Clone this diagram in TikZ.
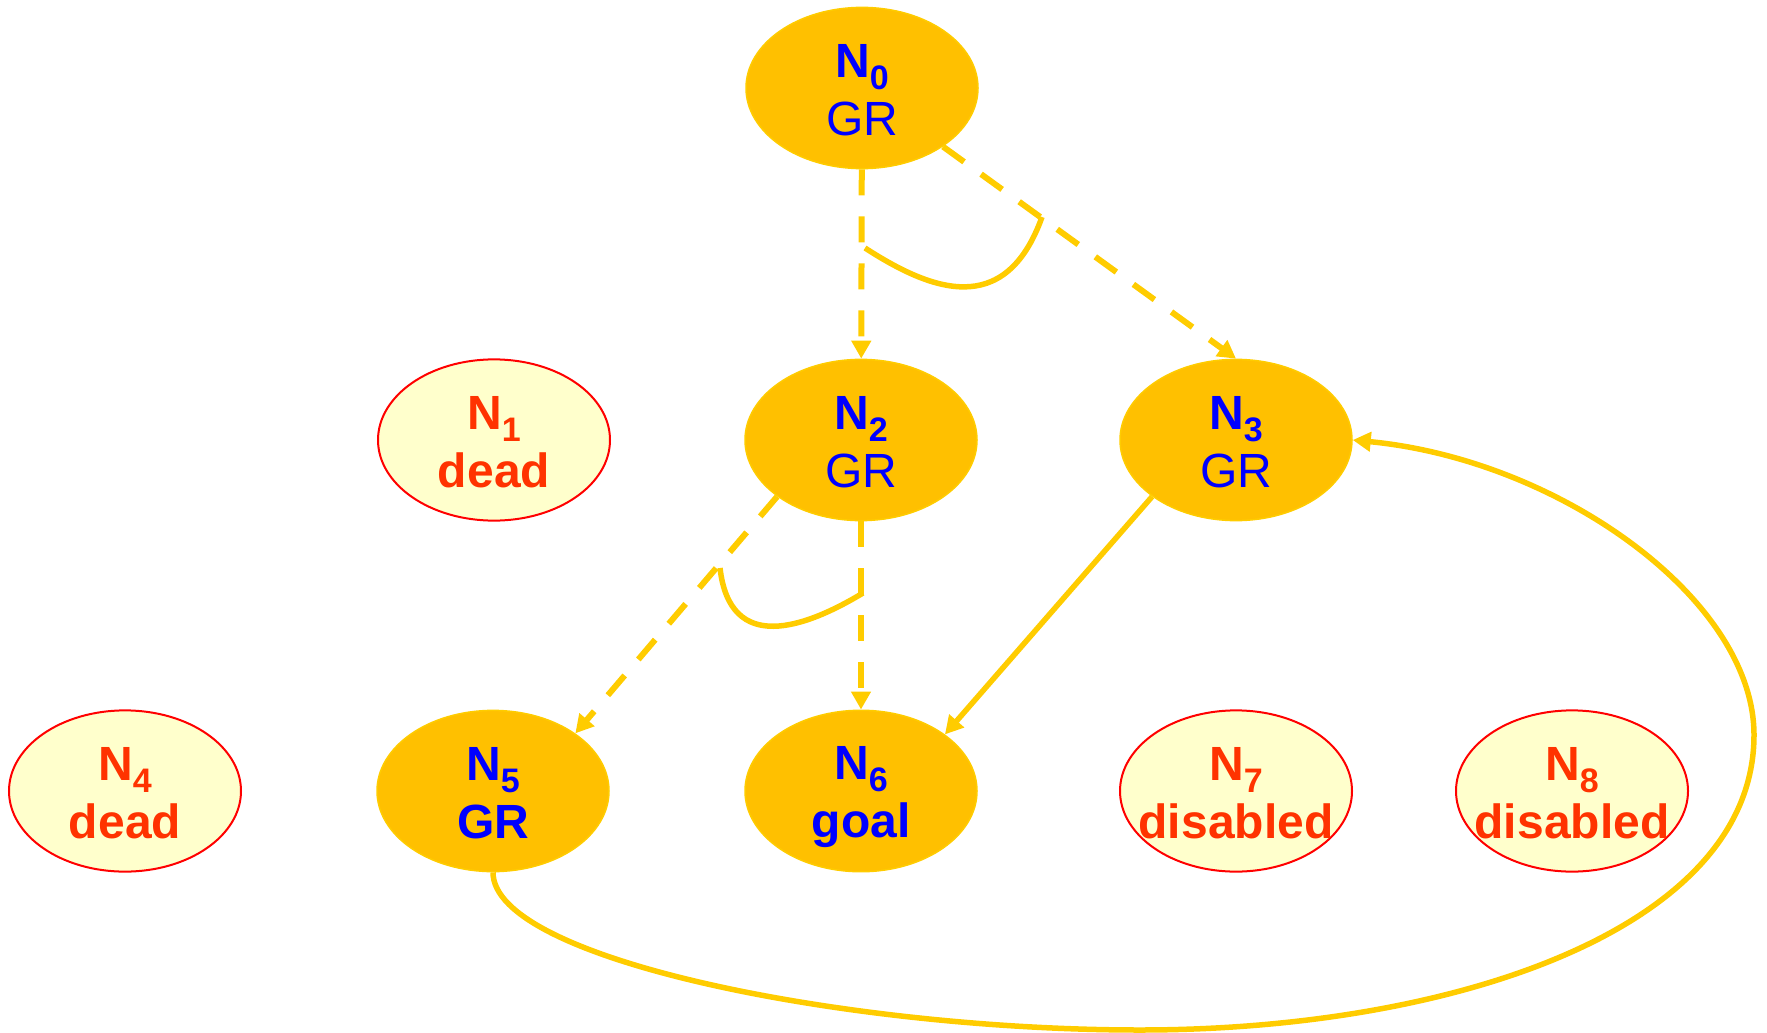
\documentclass[tikz,border=0pt]{standalone}
\usepackage{fontspec}
\setmainfont{Liberation Sans}
\usetikzlibrary{shapes.geometric,arrows.meta}

\definecolor{nodeamber}{HTML}{FFC000}
\definecolor{edgeamber}{HTML}{FFCC00}
\definecolor{paleyellow}{HTML}{FFFFCC}
\definecolor{labelred}{HTML}{FF3300}
\definecolor{labelblue}{HTML}{0000FF}

% two-line node label: bold N with subscript index, then the status line
% (the status line takes no width, so long words may run over the outline)
\newcommand{\statelabel}[2]{%
  \rule{0pt}{46pt}\textbf{N\raisebox{-12pt}{\fontsize{34}{34}\selectfont #1}}\\
  \makebox[0pt]{#2}\rule[-10pt]{0pt}{10pt}}

\tikzset{
  statebase/.style={ellipse, minimum width=232pt, minimum height=160pt,
    inner sep=0pt, align=center, font=\fontsize{48}{58}\selectfont},
  active/.style={statebase, fill=nodeamber, draw=edgeamber, line width=1.5pt,
    text=labelblue},
  inactive/.style={statebase, fill=paleyellow, draw=red, line width=2pt,
    text=labelred},
  link/.style={draw=edgeamber, line width=5.5pt,
    -{Triangle[length=18pt,width=19pt]}},
  maybelink/.style={link, line width=6pt, dash pattern=on 26pt off 21pt},
  andarc/.style={draw=edgeamber, line width=5.5pt}
}

\begin{document}
\begin{tikzpicture}[x=1pt, y=-1pt]
  \useasboundingbox (0,0) rectangle (1767,1033);

  % states
  \node[active]   (n0) at (862,88)   {\statelabel{0}{GR}};
  \node[inactive] (n1) at (494,440)  {\statelabel{1}{\textbf{dead}}};
  \node[active]   (n2) at (861,440)  {\statelabel{2}{GR}};
  \node[active]   (n3) at (1236,440) {\statelabel{3}{GR}};
  \node[inactive] (n4) at (125,791)  {\statelabel{4}{\textbf{dead}}};
  \node[active]   (n5) at (493,791)  {\statelabel{5}{\textbf{GR}}};
  \node[active]   (n6) at (861,791)  {\statelabel{6}{\textbf{goal}}};
  \node[inactive] (n7) at (1236,791) {\statelabel{7}{\textbf{disabled}}};
  \node[inactive] (n8) at (1572,791) {\statelabel{8}{\textbf{disabled}}};

  % transitions
  \draw[maybelink] (n0) -- (n2);
  \draw[maybelink] (n0) -- (n3.north);
  \draw[maybelink] (n2.214) -- (n5.35);
  \draw[maybelink] (n2) -- (n6);
  \draw[link] (n3.214) -- (n6.34);

  % loop back from N5 round the right side into N3
  \coordinate (loopbottom) at (1140,1030);
  \coordinate (loopright) at (1754,735);
  \draw[link] (n5.south) .. controls (493,960) and (850,1030) .. (loopbottom)
    .. controls (1450,1030) and (1754,930) .. (loopright)
    .. controls (1754,600) and (1560,460) .. (n3.east);

  % arcs joining the branches of each AND split
  \coordinate (andAa) at (865,248);
  \coordinate (andAb) at (1042,217);
  \draw[andarc] (andAa) .. controls (930,290) and (1005,320) .. (andAb);
  \coordinate (andBa) at (863,593);
  \coordinate (andBb) at (720,568);
  \draw[andarc] (andBa) .. controls (805,628) and (730,655) .. (andBb);
\end{tikzpicture}
\end{document}
